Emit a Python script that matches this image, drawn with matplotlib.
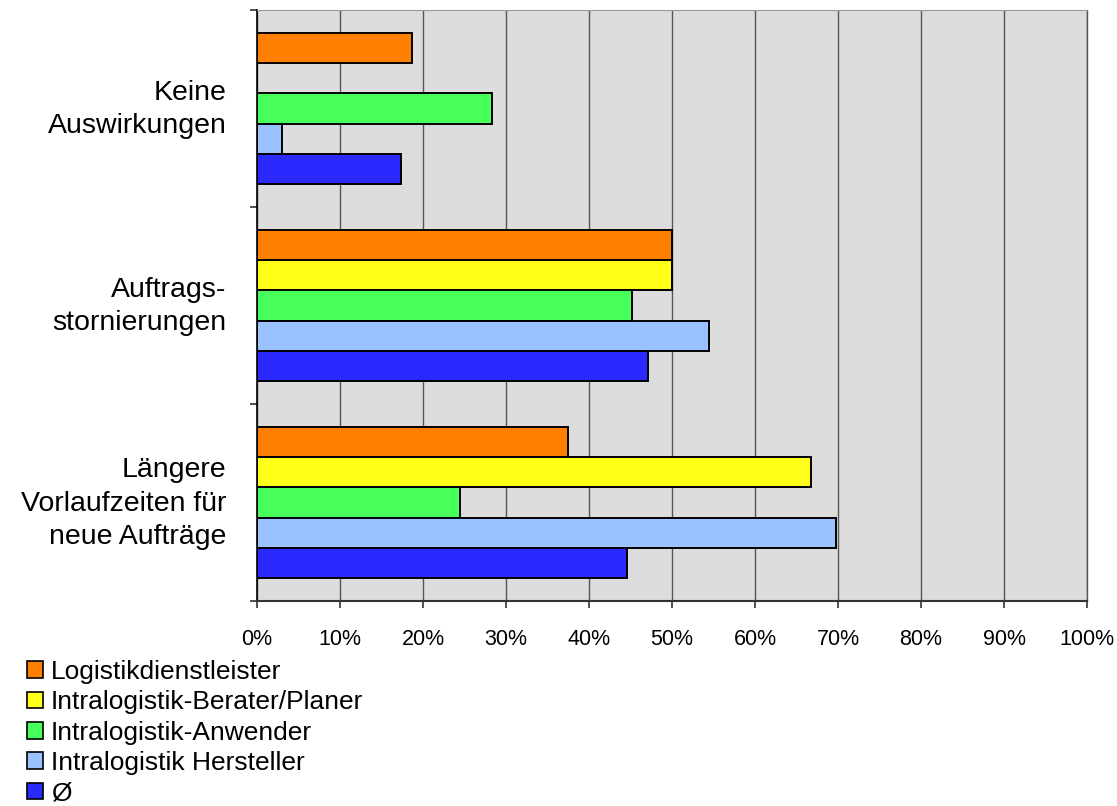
import numpy as np
import matplotlib.pyplot as plt
import matplotlib.transforms as mtransforms
from matplotlib.patches import Patch

plt.rcParams['font.family'] = ['Liberation Sans', 'DejaVu Sans']

# Categories (top to bottom) and series values in percent
categories = ['Keine\nAuswirkungen', 'Auftrags-\nstornierungen',
              'Längere\nVorlaufzeiten für\nneue Aufträge']
series_names = ['Logistikdienstleister', 'Intralogistik-Berater/Planer',
                'Intralogistik-Anwender', 'Intralogistik Hersteller', 'Ø']
logistik = [18.7, 50.0, 37.5]
berater = [0.0, 50.0, 66.7]
anwender = [28.3, 45.2, 24.5]
hersteller = [3.0, 54.5, 69.7]
mittel = [17.3, 47.1, 44.6]
x_ticks = [0, 10, 20, 30, 40, 50, 60, 70, 80, 90, 100]

colors = ['#FF8000', '#FFFF1A', '#46FF5A', '#99C2FF', '#2A2AFF']
all_series = [logistik, berater, anwender, hersteller, mittel]

fig = plt.figure(figsize=(11.17, 8.06), dpi=100)
ax = fig.add_axes([257 / 1117, 1 - 601 / 806, 830 / 1117, 591 / 806])
ax.set_facecolor('#DDDDDD')

ypos = np.arange(len(categories))
h = 0.154
for i, (vals, col) in enumerate(zip(all_series, colors)):
    ax.barh(ypos + (i - 2) * h, vals, height=h, color=col,
            edgecolor='black', linewidth=1.4, zorder=3)

ax.set_xlim(0, 100)
ax.set_ylim(2.5, -0.5)
ax.set_xticks(x_ticks)
ax.set_xticklabels([f'{t}%' for t in x_ticks], fontsize=15.5)
ax.xaxis.grid(True, color='#555555', linewidth=1, zorder=1)
ax.tick_params(axis='x', length=5, width=1.2, pad=15, color='#333333')

ax.set_yticks(ypos)
ax.set_yticklabels(categories, fontsize=20.5, linespacing=1.36)
ax.tick_params(axis='y', which='major', length=0, pad=22)
ax.set_yticks([-0.5, 0.5, 1.5, 2.5], minor=True)
ax.tick_params(axis='y', which='minor', length=5, width=1.2, color='#333333')
# nudge category labels up a little
shift = mtransforms.ScaledTranslation(0, 0.055, fig.dpi_scale_trans)
for lbl in ax.get_yticklabels():
    lbl.set_transform(lbl.get_transform() + shift)

ax.spines['left'].set_color('black')
ax.spines['left'].set_linewidth(1.2)
ax.spines['bottom'].set_color('#333333')
ax.spines['bottom'].set_linewidth(1.5)
ax.spines['top'].set_color('#999999')
ax.spines['right'].set_color('#555555')
ax.spines['right'].set_linewidth(1)

handles = [Patch(facecolor=c, edgecolor='black', linewidth=1.2) for c in colors]
fig.legend(handles, series_names, loc='upper left',
           bbox_to_anchor=(27 / 1117, 1 - 660 / 806), frameon=False,
           fontsize=19, handlelength=0.6, handleheight=0.6,
           handletextpad=0.3, labelspacing=0.24, borderpad=0, borderaxespad=0)

fig.savefig('out.png', dpi=100)
